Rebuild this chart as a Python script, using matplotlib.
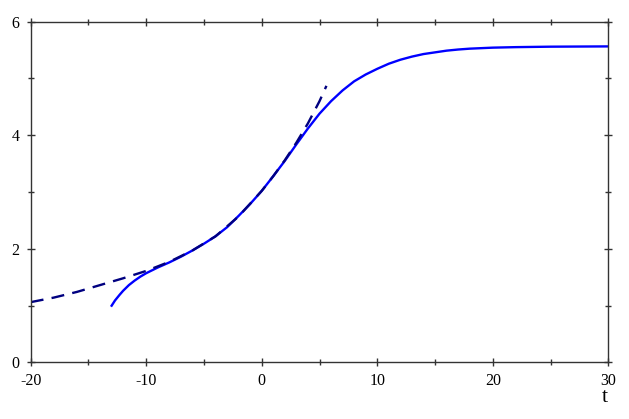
import numpy as np
import matplotlib
matplotlib.use('Agg')
import matplotlib.pyplot as plt
from matplotlib.ticker import MultipleLocator

plt.rcParams['font.family'] = 'Liberation Serif'
plt.rcParams['axes.unicode_minus'] = False

# solid curve
t_sol = [-13.05, -12.7, -12.3, -12.0, -11.5, -11.0, -10.5, -10.0, -9.0, -8.0, -7.0, -6.0,
         -5.0, -4.0, -3.0, -2.0, -1.0, 0.0, 1.0, 2.0, 3.0, 4.0, 5.0, 6.0, 7.0,
         8.0, 9.0, 10.0, 11.0, 12.0, 13.0, 14.0, 15.0, 16.0, 17.0, 18.0, 20.0, 22.0, 25.0, 30.0]
y_sol = [0.98, 1.09, 1.19, 1.26, 1.36, 1.44, 1.51, 1.57, 1.67, 1.76, 1.86, 1.97,
         2.09, 2.22, 2.38, 2.58, 2.79, 3.02, 3.28, 3.55, 3.84, 4.12, 4.38, 4.60, 4.79,
         4.95, 5.07, 5.17, 5.26, 5.33, 5.385, 5.43, 5.46, 5.49, 5.51, 5.525, 5.543, 5.552, 5.56, 5.565]

# dashed curve
t_dash = [-20.0, -18.0, -16.0, -14.0, -12.0, -10.0, -8.0, -6.0, -4.0, -2.0,
          0.0, 1.0, 2.0, 3.0, 4.0, 5.0, 5.6]
y_dash = [1.06, 1.14, 1.24, 1.36, 1.48, 1.61, 1.77, 1.97, 2.22, 2.57,
          3.02, 3.28, 3.56, 3.87, 4.21, 4.60, 4.87]

fig = plt.figure(figsize=(6.29, 4.19), dpi=100)
ax = fig.add_axes([0.0488, 0.1353, 0.9183, 0.8129])

ax.plot(t_sol, y_sol, color='#0000ff', lw=1.7, solid_capstyle='butt')
ax.plot(t_dash, y_dash, color='#000080', lw=1.7, dashes=(5.5, 3.5))

ax.set_xlim(-20, 30)
ax.set_ylim(0, 6)
ax.xaxis.set_major_locator(MultipleLocator(10))
ax.xaxis.set_minor_locator(MultipleLocator(5))
ax.yaxis.set_major_locator(MultipleLocator(2))
ax.yaxis.set_minor_locator(MultipleLocator(1))

for s in ax.spines.values():
    s.set_color('#333333')
    s.set_linewidth(1.0)

ax.tick_params(which='both', direction='inout', top=True, right=True,
               color='#333333', width=1.0, labelsize=11.5)
ax.tick_params(which='major', length=6, pad=5)
ax.tick_params(which='minor', length=4)

fig.text(0.962, 0.040, 't', fontsize=16, ha='center', va='baseline')

fig.savefig('out.png', dpi=100)
